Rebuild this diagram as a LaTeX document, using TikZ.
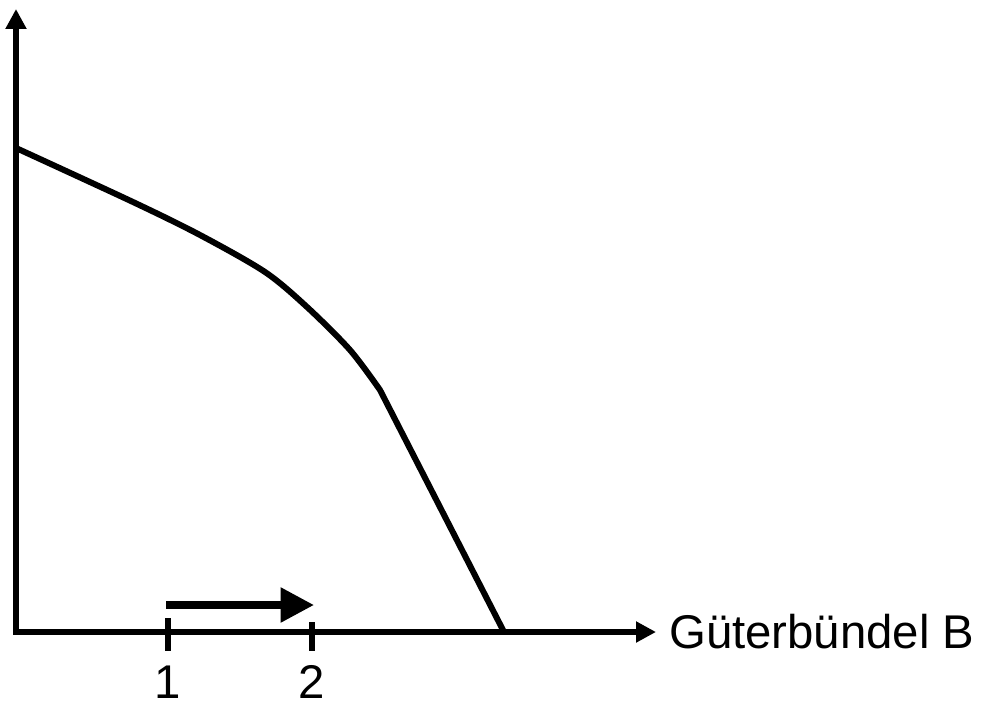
\documentclass[tikz,border=0pt]{standalone}
\usepackage{fontspec}
\setmainfont{Liberation Sans}
\usetikzlibrary{arrows.meta}
\begin{document}
\begin{tikzpicture}[x=0.75pt,y=-0.75pt,
  axis/.style={line width=4.1pt,-{Triangle[length=15pt,width=15pt]}},
  curve/.style={line width=4.5pt,line join=round},
  tick/.style={line width=4.1pt},
  shiftarrow/.style={line width=5.5pt,-{Triangle[length=25pt,width=25pt]}},
  lbl/.style={font=\fontsize{35.5pt}{40pt}\selectfont,inner sep=0pt}]
\useasboundingbox (0,0) rectangle (987,706);
\coordinate (O) at (16,632);
\coordinate (ytop) at (16,9);
\coordinate (xend) at (656,632);
\draw[axis] (16,634.5) -- (ytop);
\draw[axis] (13.5,632) -- (xend);
\node[lbl,anchor=base west] (xlab) at (669,648) {Güterbündel B};
% curve
\coordinate (c0) at (16,148);
\coordinate (c1) at (380,390);
\coordinate (c2) at (504,632);
\draw[curve] plot[smooth,tension=0.5] coordinates {(16,148) (133,202) (200,235) (265,272) (307,307) (350,350) (380,390)} -- (c2);
% ticks
\coordinate (t1a) at (168,618);
\coordinate (t1b) at (168,651);
\coordinate (t2a) at (312,622);
\coordinate (t2b) at (312,651);
\draw[tick] (t1a) -- (t1b);
\draw[tick] (t2a) -- (t2b);
\node[lbl,anchor=base] (n1) at (168,698) {1};
\node[lbl,anchor=base] (n2) at (312,698) {2};
% shift arrow
\coordinate (sa) at (166,605);
\coordinate (sb) at (314,605);
\draw[shiftarrow] (sa) -- (sb);
\end{tikzpicture}
\end{document}
